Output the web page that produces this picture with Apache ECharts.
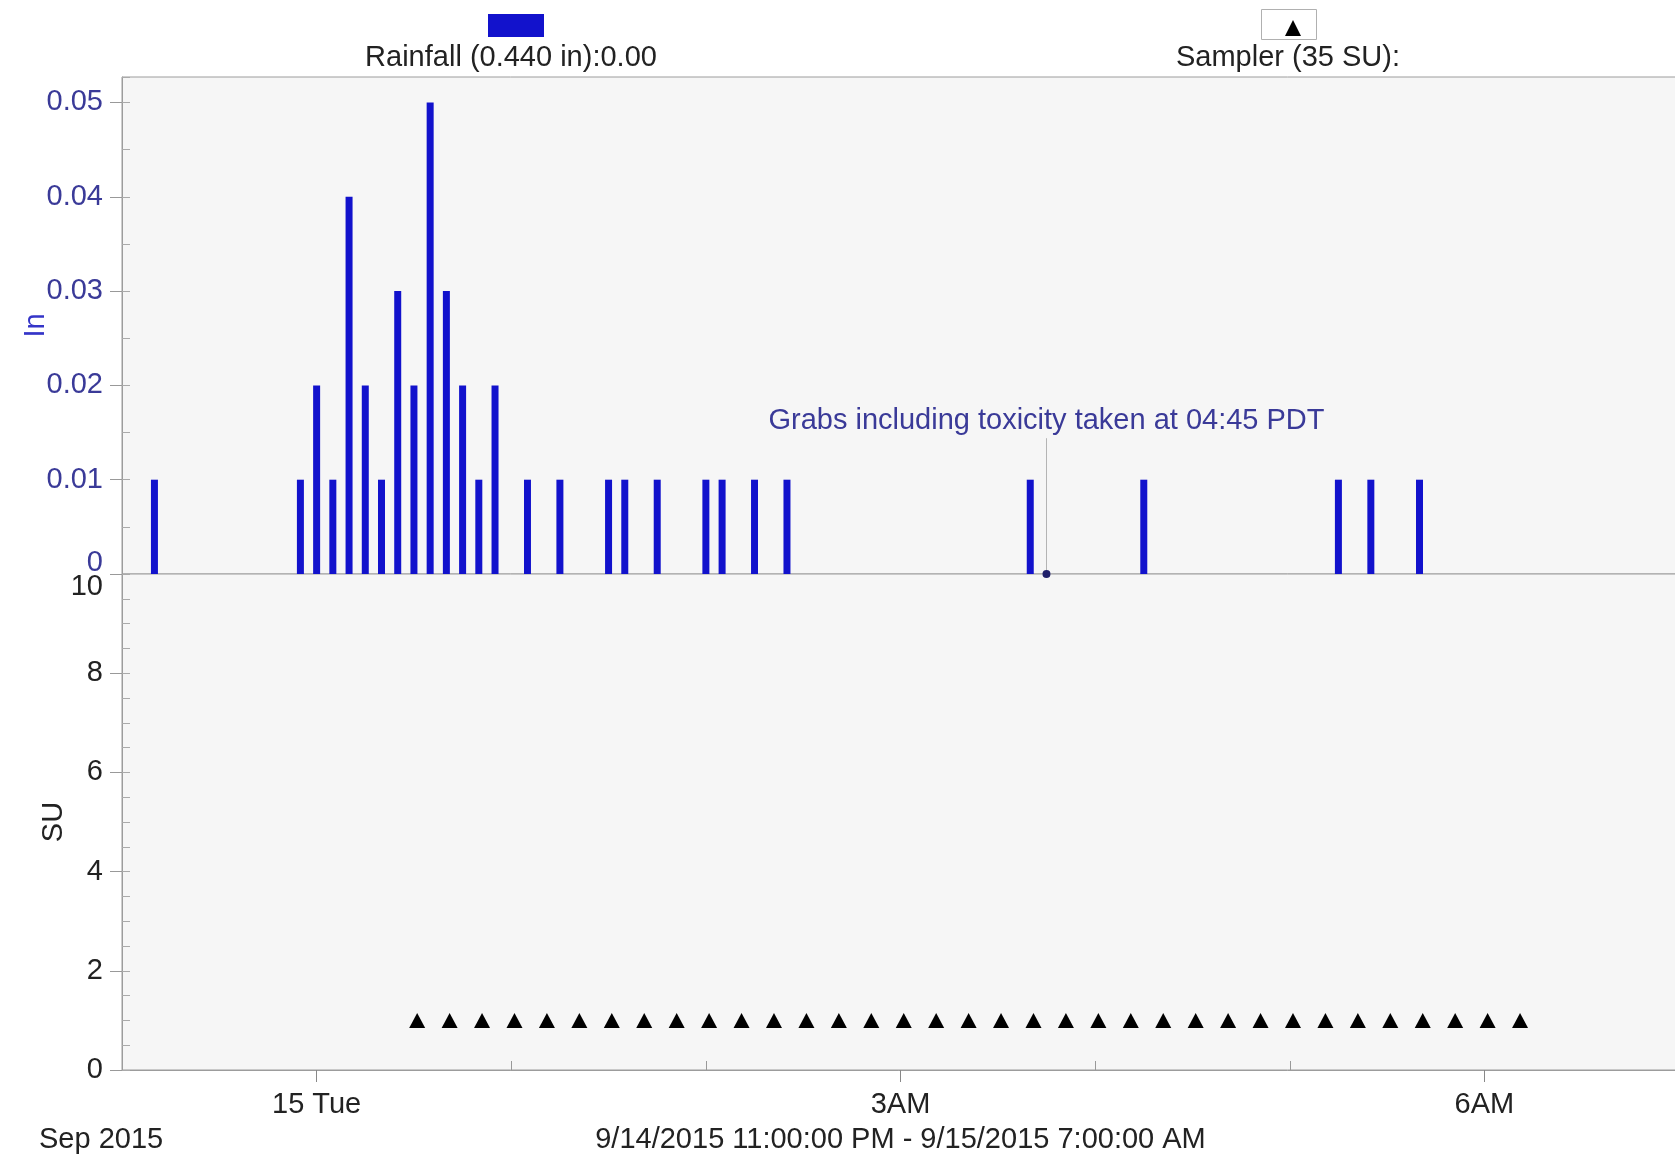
<!DOCTYPE html>
<html>
<head>
<meta charset="utf-8">
<title>Rainfall / Sampler</title>
<script src="https://cdn.jsdelivr.net/npm/echarts@6/dist/echarts.min.js"></script>
<style>
  html, body { margin: 0; padding: 0; background: #fff; }
  #chart { width: 1675px; height: 1157px; }
</style>
</head>
<body>
<div id="chart"></div>
<script>
// rainfall, 5 minute totals (in)
var rainTimes = [
  '2015-09-14 23:10', '2015-09-14 23:55', '2015-09-15 00:00', '2015-09-15 00:05',
  '2015-09-15 00:10', '2015-09-15 00:15', '2015-09-15 00:20', '2015-09-15 00:25',
  '2015-09-15 00:30', '2015-09-15 00:35', '2015-09-15 00:40', '2015-09-15 00:45',
  '2015-09-15 00:50', '2015-09-15 00:55', '2015-09-15 01:05', '2015-09-15 01:15',
  '2015-09-15 01:30', '2015-09-15 01:35', '2015-09-15 01:45', '2015-09-15 02:00',
  '2015-09-15 02:05', '2015-09-15 02:15', '2015-09-15 02:25', '2015-09-15 03:40',
  '2015-09-15 04:15', '2015-09-15 05:15', '2015-09-15 05:25', '2015-09-15 05:40'
];
var rainValues = [
  0.01, 0.01, 0.02, 0.01,
  0.04, 0.02, 0.01, 0.03,
  0.02, 0.05, 0.03, 0.02,
  0.01, 0.02, 0.01, 0.01,
  0.01, 0.01, 0.01, 0.01,
  0.01, 0.01, 0.01, 0.01,
  0.01, 0.01, 0.01, 0.01
];

// sampler aliquots (SU)
var samplerTimes = [
  '2015-09-15 00:31', '2015-09-15 00:41', '2015-09-15 00:51', '2015-09-15 01:01',
  '2015-09-15 01:11', '2015-09-15 01:21', '2015-09-15 01:31', '2015-09-15 01:41',
  '2015-09-15 01:51', '2015-09-15 02:01', '2015-09-15 02:11', '2015-09-15 02:21',
  '2015-09-15 02:31', '2015-09-15 02:41', '2015-09-15 02:51', '2015-09-15 03:01',
  '2015-09-15 03:11', '2015-09-15 03:21', '2015-09-15 03:31', '2015-09-15 03:41',
  '2015-09-15 03:51', '2015-09-15 04:01', '2015-09-15 04:11', '2015-09-15 04:21',
  '2015-09-15 04:31', '2015-09-15 04:41', '2015-09-15 04:51', '2015-09-15 05:01',
  '2015-09-15 05:11', '2015-09-15 05:21', '2015-09-15 05:31', '2015-09-15 05:41',
  '2015-09-15 05:51', '2015-09-15 06:01', '2015-09-15 06:11'
];
var samplerValues = [
  1, 1, 1, 1, 1, 1, 1, 1, 1, 1, 1, 1, 1, 1, 1, 1, 1, 1,
  1, 1, 1, 1, 1, 1, 1, 1, 1, 1, 1, 1, 1, 1, 1, 1, 1
];

// grab sample note
var grabTime = '2015-09-15 03:45';
var grabValue = 0;
var grabLineTop = 0.0144;
var grabText = 'Grabs including toxicity taken at 04:45 PDT';

var startTime = '2015-09-14 23:00';
var endTime = '2015-09-15 07:00';
var labelTimes = ['2015-09-15 00:00', '2015-09-15 03:00', '2015-09-15 06:00'];
var labelTexts = ['15 Tue', '3AM', '6AM'];
var hourTimes = ['2015-09-15 01:00', '2015-09-15 02:00', '2015-09-15 04:00', '2015-09-15 05:00'];

var rainName = 'Rainfall (0.440 in):0.00';
var samplerName = 'Sampler (35 SU):';
var rangeText = '9/14/2015 11:00:00 PM - 9/15/2015 7:00:00 AM';
var monthText = 'Sep 2015';

function toMs(s) {
  var p = s.split(/[- :]/);
  return Date.UTC(+p[0], +p[1] - 1, +p[2], +p[3], +p[4]);
}
function pairs(ts, vs) {
  var out = [];
  for (var i = 0; i < ts.length; i++) out.push([toMs(ts[i]), vs[i]]);
  return out;
}

var FONT = '"Liberation Sans", Arial, sans-serif';
var FS = 29;
var BLUE_TXT = '#3a3a98';
var GRID_LINE = '#9c9c9c';

var myChart = echarts.init(document.getElementById('chart'));

var labelMs = labelTimes.map(toMs);
var xMin = toMs(startTime), xMax = toMs(endTime);

var option = {
  backgroundColor: '#ffffff',
  animation: false,
  textStyle: { fontFamily: FONT },
  legend: [
    {
      data: ['Rainfall'], left: 483, top: 9, icon: 'rect',
      itemWidth: 56, itemHeight: 23, selectedMode: false,
      formatter: function () { return ''; }
    },
    {
      data: ['Sampler'], left: 1280, top: 15, icon: 'triangle',
      itemWidth: 16, itemHeight: 16, selectedMode: false,
      formatter: function () { return ''; }
    }
  ],
  graphic: [
    { type: 'rect', left: 1261, top: 9, z: -1,
      shape: { width: 55, height: 30 },
      style: { fill: '#fff', stroke: '#b0b0b0', lineWidth: 1 } },
    { type: 'text', x: 511, y: 58,
      style: { text: rainName, font: FS + 'px ' + FONT, fill: '#222', align: 'center', verticalAlign: 'middle' } },
    { type: 'text', x: 1288, y: 58,
      style: { text: samplerName, font: FS + 'px ' + FONT, fill: '#222', align: 'center', verticalAlign: 'middle' } },
    { type: 'text', x: 39, y: 1140,
      style: { text: monthText, font: FS + 'px ' + FONT, fill: '#222', align: 'left', verticalAlign: 'middle' } }
  ],
  grid: [
    { left: 122, top: 77, width: 1557, height: 497, show: true, outerBoundsMode: 'none',
      backgroundColor: '#f6f6f6', borderColor: GRID_LINE, borderWidth: 1 },
    { left: 122, top: 574, width: 1557, height: 496, show: true, outerBoundsMode: 'none',
      backgroundColor: '#f6f6f6', borderColor: GRID_LINE, borderWidth: 1 }
  ],
  xAxis: [
    { type: 'value', gridIndex: 0, min: xMin, max: xMax,
      axisLine: { show: false, onZero: false }, axisTick: { show: false },
      axisLabel: { show: false }, splitLine: { show: false } },
    { type: 'value', gridIndex: 1, min: xMin, max: xMax, position: 'bottom',
      name: rangeText, nameLocation: 'middle', nameGap: 55, nameMoveOverlap: false,
      nameTextStyle: { fontSize: FS, color: '#222', fontFamily: FONT },
      axisLine: { onZero: false, lineStyle: { color: GRID_LINE } },
      axisTick: { customValues: labelMs, length: 12, lineStyle: { color: '#888' } },
      axisLabel: {
        customValues: labelMs, margin: 20, fontSize: FS, color: '#222', fontFamily: FONT,
        formatter: function (v) {
          var i = labelMs.indexOf(v);
          return i >= 0 ? labelTexts[i] : '';
        }
      },
      splitLine: { show: false } },
    { type: 'value', gridIndex: 1, min: xMin, max: xMax, position: 'bottom', offset: 0,
      axisLine: { show: false, onZero: false },
      axisTick: { customValues: hourTimes.map(toMs), inside: true, length: 9, lineStyle: { color: '#999' } },
      axisLabel: { show: false }, splitLine: { show: false } }
  ],
  yAxis: [
    { type: 'value', gridIndex: 0, min: 0, max: 0.0527, interval: 0.01, position: 'left',
      name: 'In', nameLocation: 'middle', nameGap: 72, nameMoveOverlap: false,
      nameTextStyle: { fontSize: FS, color: '#3535c8', fontFamily: FONT },
      axisLine: { show: true, onZero: false, lineStyle: { color: GRID_LINE } },
      axisTick: { show: true, length: 12, lineStyle: { color: '#999' } },
      axisLabel: {
        margin: 19, fontSize: FS, color: BLUE_TXT, fontFamily: FONT, showMaxLabel: false,
        formatter: function (v) {
          if (v === 0) return '{lo|0}';
          if (Math.abs(v * 100 - Math.round(v * 100)) > 1e-6) return '';
          return v.toFixed(2);
        },
        rich: { lo: { fontSize: FS, color: BLUE_TXT, fontFamily: FONT, padding: [0, 0, 22, 0] } }
      },
      splitLine: { show: false } },
    { type: 'value', gridIndex: 0, min: 0, max: 0.0527, interval: 0.005, position: 'left', offset: 0,
      axisLine: { show: false, onZero: false },
      axisTick: { show: true, inside: true, length: 8, lineStyle: { color: '#aaa' } },
      axisLabel: { show: false }, splitLine: { show: false } },
    { type: 'value', gridIndex: 1, min: 0, max: 10, interval: 2, position: 'left',
      name: 'SU', nameLocation: 'middle', nameGap: 54, nameMoveOverlap: false,
      nameTextStyle: { fontSize: FS, color: '#222', fontFamily: FONT },
      axisLine: { show: true, onZero: false, lineStyle: { color: GRID_LINE } },
      axisTick: { show: true, length: 12, lineStyle: { color: '#999' } },
      axisLabel: {
        margin: 19, fontSize: FS, color: '#222', fontFamily: FONT,
        formatter: function (v) { return v === 10 ? '{hi|10}' : String(v); },
        rich: { hi: { fontSize: FS, color: '#222', fontFamily: FONT, padding: [26, 0, 0, 0] } }
      },
      splitLine: { show: false } },
    { type: 'value', gridIndex: 1, min: 0, max: 10, interval: 0.5, position: 'left', offset: 0,
      axisLine: { show: false, onZero: false },
      axisTick: { show: true, inside: true, length: 8, lineStyle: { color: '#aaa' } },
      axisLabel: { show: false }, splitLine: { show: false } }
  ],
  series: [
    {
      name: 'Rainfall', type: 'bar', xAxisIndex: 0, yAxisIndex: 0,
      barWidth: 7, itemStyle: { color: '#1212cc' },
      data: pairs(rainTimes, rainValues)
    },
    {
      name: 'Grabs', type: 'scatter', xAxisIndex: 0, yAxisIndex: 0,
      symbol: 'circle', symbolSize: 8, itemStyle: { color: '#20206a', opacity: 1 }, z: 5,
      data: [[toMs(grabTime), grabValue]],
      markLine: {
        silent: true, symbol: ['none', 'none'],
        lineStyle: { color: '#b4b4b4', width: 1, type: 'solid' },
        label: { show: true, position: 'end', distance: 3, formatter: grabText,
          fontSize: FS, color: BLUE_TXT, fontFamily: FONT },
        data: [[{ coord: [toMs(grabTime), grabValue] }, { coord: [toMs(grabTime), grabLineTop] }]]
      }
    },
    {
      name: 'Sampler', type: 'scatter', xAxisIndex: 1, yAxisIndex: 2,
      symbol: 'triangle', symbolSize: [16, 15], itemStyle: { color: '#000', opacity: 1 },
      data: pairs(samplerTimes, samplerValues)
    }
  ]
};

myChart.setOption(option);
window.onresize = myChart.resize;
</script>
</body>
</html>
